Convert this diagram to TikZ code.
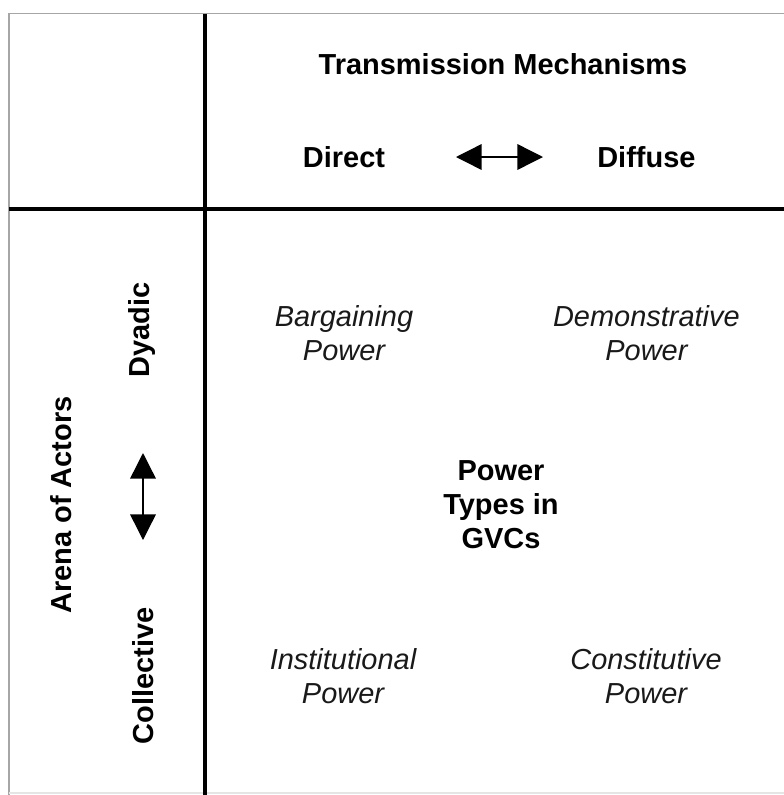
\documentclass[tikz,border=0pt]{standalone}
\usepackage{fontspec}
\setmainfont{Liberation Sans}
\usetikzlibrary{arrows.meta}

\begin{document}
\begin{tikzpicture}[>={Triangle[length=0.64cm,width=0.64cm]},line width=1pt,
  head/.style={font=\fontsize{20.6}{24.2}\selectfont\bfseries,align=center},
  kind/.style={font=\fontsize{20.6}{23.8}\selectfont\itshape,align=center,text=black!90},
  frame/.style={gray!70,line width=1.3pt},
  rule/.style={line width=2.6pt}]
\useasboundingbox (0,0) rectangle (19.6,-19.875);

% table lines
\draw[frame] (19.6,-0.3375) -- (0.225,-0.3375) -- (0.225,-19.875);
\draw[gray!20,line width=0.8pt] (0.225,-19.825) -- (19.6,-19.825);
\draw[rule] (5.125,-0.3375) -- (5.125,-19.875);
\draw[rule] (0.225,-5.225) -- (19.6,-5.225);

% header
\node[head](tm) at (12.575,-1.6) {Transmission Mechanisms};
\node[head](direct) at (8.6,-3.94) {Direct};
\node[head](diffuse) at (16.16,-3.94) {Diffuse};
\coordinate (hl) at (11.4,-3.925);
\coordinate (hr) at (13.575,-3.925);
\draw[<->] (hl) -- (hr);

% side
\node[head,rotate=90](arena) at (1.525,-12.625) {Arena of Actors};
\node[head,rotate=90](dyadic) at (3.55,-8.25) {Dyadic};
\node[head,rotate=90](collective) at (3.575,-16.9) {Collective};
\coordinate (vt) at (3.575,-11.325);
\coordinate (vb) at (3.575,-13.5);
\draw[<->] (vt) -- (vb);

% power types
\node[kind](bargain) at (8.6,-8.33) {Bargaining\\Power};
\node[kind](demo) at (16.16,-8.33) {Demonstrative\\Power};
\node[head](types) at (12.525,-12.625) {Power\\Types in\\GVCs};
\node[kind](inst) at (8.575,-16.9) {Institutional\\Power};
\node[kind](const) at (16.15,-16.9) {Constitutive\\Power};
\end{tikzpicture}
\end{document}
